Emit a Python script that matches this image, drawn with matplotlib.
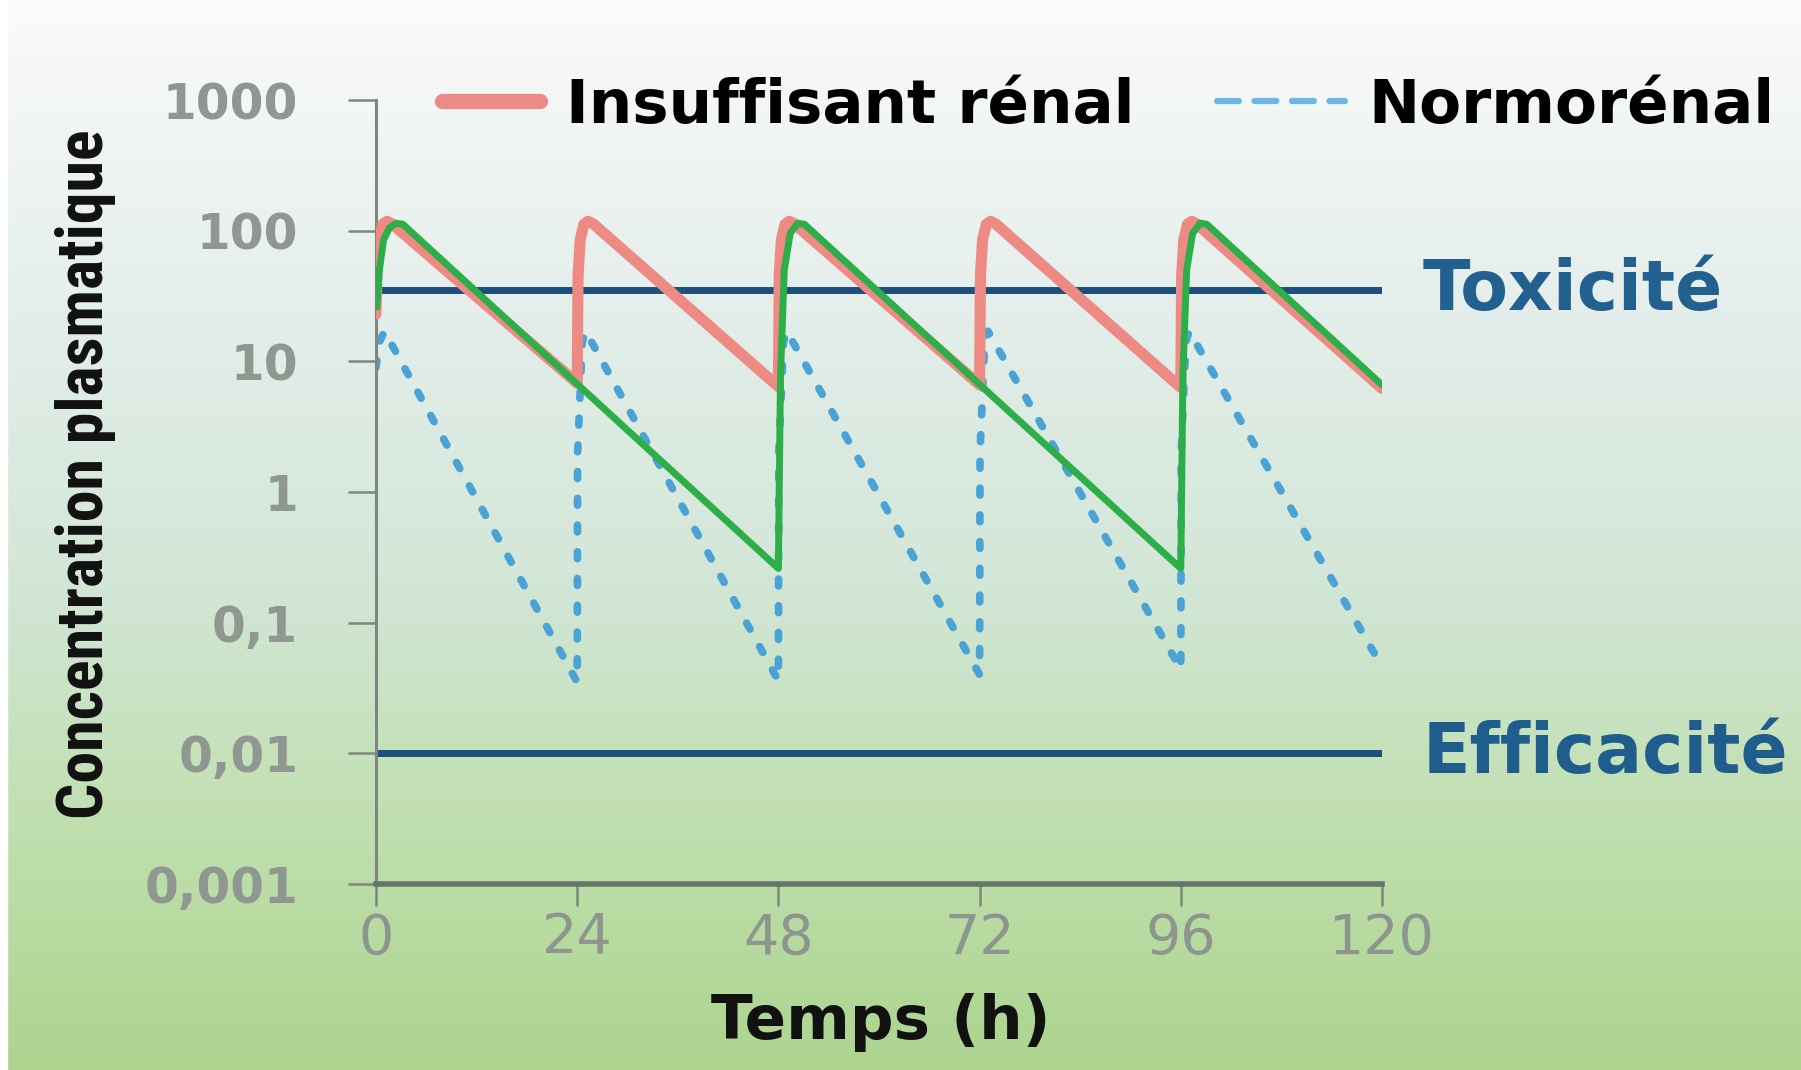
import numpy as np
import matplotlib
matplotlib.use('Agg')
from matplotlib import pyplot as plt
from matplotlib.colors import LinearSegmentedColormap
from matplotlib.ticker import NullLocator

# insuffisant renal : une prise toutes les 24 h
t_ir = [0, 0.1, 0.35, 0.8, 1.3, 1.9,
        24, 24.1, 24.35, 24.8, 25.3, 25.9,
        48, 48.1, 48.35, 48.8, 49.3, 49.9,
        72, 72.1, 72.35, 72.8, 73.3, 73.9,
        96, 96.1, 96.35, 96.8, 97.3, 97.9,
        120]
c_ir = [23, 45, 85, 112, 118, 113,
        6.8, 45, 85, 112, 118, 113,
        6.4, 45, 85, 112, 118, 113,
        6.6, 45, 85, 112, 118, 113,
        6.3, 45, 85, 112, 118, 113,
        6.2]

# insuffisant renal, prise toutes les 48 h (courbe verte)
t_48 = [0.1, 0.4, 0.9, 1.6, 2.4, 3.2,
        48, 48.25, 48.7, 49.4, 50.3, 51.1,
        96, 96.25, 96.7, 97.4, 98.3, 99.1,
        120]
c_48 = [26, 50, 85, 105, 114, 112,
        0.26, 8, 50, 95, 114, 112,
        0.26, 8, 50, 95, 114, 112,
        6.6]

# normorenal
t_nr = [0, 0.4, 1.0,
        24, 24.05, 24.6, 25.0,
        48, 48.05, 48.6, 49.0,
        72, 72.05, 72.6, 73.0,
        96, 96.05, 96.6, 97.0,
        120]
c_nr = [9, 14, 17,
        0.035, 2, 14, 17,
        0.036, 2, 14, 17,
        0.04, 2, 14, 17,
        0.044, 2, 14, 17,
        0.046]

seuil_tox = 35
seuil_eff = 0.01

y_ticks = [0.001, 0.01, 0.1, 1, 10, 100, 1000]
y_labels = ["0,001", "0,01", "0,1", "1", "10", "100", "1000"]
x_ticks = [0, 24, 48, 72, 96, 120]

narrow = ['Roboto Condensed', 'Archivo Narrow', 'PT Sans Narrow', 'DejaVu Sans']

fig = plt.figure(figsize=(18.01, 10.70), dpi=100)

# fond degrade blanc -> vert
bg = fig.add_axes([0, 0, 1, 1], zorder=-10)
cmap = LinearSegmentedColormap.from_list('fond', [
    (0.0, '#fbfcfb'), (0.05, '#f6f8f7'), (0.3, '#e3eeea'),
    (0.55, '#d2e6d6'), (0.78, '#bfdfae'), (1.0, '#acd48e')])
grad = np.linspace(0, 1, 256).reshape(-1, 1)
bg.imshow(grad, aspect='auto', cmap=cmap, extent=[0, 1, 1, 0])
bg.axvspan(0, 7 / 1801, color='white')
bg.set_xlim(0, 1)
bg.set_ylim(1, 0)
bg.axis('off')

ax = fig.add_axes([376 / 1801, 1 - 884 / 1070, 1006 / 1801, 784 / 1070])
ax.patch.set_alpha(0)

ax.hlines([seuil_tox, seuil_eff], 0, 120, color='#1c4f7c', lw=5, zorder=1)
l_nr, = ax.plot(t_nr, c_nr, color='#4aa3d4', lw=5.5, ls=(0, (0.9, 2.6)),
                dash_capstyle='round', zorder=2, label='Normorénal')
l_ir, = ax.plot(t_ir, c_ir, color='#ee8a84', lw=8, solid_joinstyle='round',
                solid_capstyle='round', zorder=3, label='Insuffisant rénal')
ax.plot(t_48, c_48, color='#2eae48', lw=5, solid_joinstyle='round',
        solid_capstyle='round', zorder=4)

ax.set_yscale('log')
ax.set_xlim(0, 120)
ax.set_ylim(0.001, 1000)
ax.set_yticks(y_ticks)
ax.set_yticklabels(y_labels)
ax.yaxis.set_minor_locator(NullLocator())
ax.set_xticks(x_ticks)

for sp in ['top', 'right']:
    ax.spines[sp].set_visible(False)
ax.spines['left'].set_color('#7d877f')
ax.spines['left'].set_linewidth(2.2)
ax.spines['bottom'].set_color('#66756a')
ax.spines['bottom'].set_linewidth(4)

ax.tick_params(axis='y', length=20, width=1.8, color='#7d877f', pad=36,
               labelsize=35, labelcolor='#8f9790')
ax.tick_params(axis='x', length=16, width=1.8, color='#7d877f', pad=4,
               labelsize=40, labelcolor='#8d958e')
for lab in ax.get_yticklabels():
    lab.set_fontweight('semibold')

ax.text(1.04, seuil_tox, "Toxicité", transform=ax.get_yaxis_transform(),
        color='#22608f', fontsize=50, fontweight='bold',
        va='center', ha='left', clip_on=False)
ax.text(1.04, seuil_eff, "Efficacité", transform=ax.get_yaxis_transform(),
        color='#1f5d8c', fontsize=50, fontweight='bold',
        va='center', ha='left', clip_on=False)

fig.text(86 / 1801, 1 - 474 / 1070, "Concentration plasmatique",
         rotation=90, ha='center', va='center', fontsize=46,
         fontweight='bold', family=narrow, color='#111111')
fig.text(881 / 1801, 1 - 1022 / 1070, "Temps (h)", ha='center',
         va='center', fontsize=44, fontweight='bold', color='#111111')

# deux legendes pour avoir des longueurs d'echantillon differentes
leg1 = ax.legend(handles=[l_ir], loc='center left',
                 bbox_to_anchor=(0.0656, 0.992), frameon=False,
                 borderaxespad=0, borderpad=0, handlelength=1.6,
                 handletextpad=0.43, prop={'weight': 'bold', 'size': 44})
leg1.get_lines()[0].set_linewidth(11)
ax.add_artist(leg1)
leg2 = ax.legend(handles=[l_nr], loc='center left',
                 bbox_to_anchor=(0.836, 0.992), frameon=False,
                 borderaxespad=0, borderpad=0, handlelength=2.1,
                 handletextpad=0.38, prop={'weight': 'bold', 'size': 44})
leg2.get_lines()[0].set_linewidth(4.5)
leg2.get_lines()[0].set_color('#6bb8e2')
leg2.get_lines()[0].set_linestyle((0, (3.5, 2.5)))

fig.savefig('out.png', dpi=100)
